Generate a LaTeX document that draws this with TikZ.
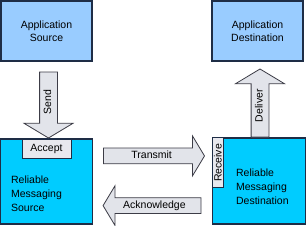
\documentclass[tikz,border=0pt]{standalone}
\usepackage{fontspec}
\setmainfont{Liberation Sans}
\usepackage{tikz}
\usetikzlibrary{positioning,shapes.arrows}
\definecolor{appblue}{RGB}{153,204,255}
\definecolor{rmblue}{RGB}{0,204,255}
\definecolor{boxline}{RGB}{30,45,70}
\definecolor{tabgray}{RGB}{232,232,238}
\definecolor{arrowfill}{RGB}{226,228,234}
\definecolor{arrowline}{RGB}{60,60,70}

\begin{document}
\begin{tikzpicture}[x=1pt,y=-1pt,
  every node/.style={font=\fontsize{10.5}{12.5}\selectfont},
  appbox/.style={draw=boxline,fill=appblue,line width=1.2pt,minimum width=91pt,minimum height=60pt,align=center,inner sep=0pt},
  rmbox/.style={draw=boxline,fill=rmblue,line width=1.2pt,minimum width=92pt,minimum height=85pt,inner sep=0pt},
  rmtext/.style={align=left,anchor=west,inner sep=0pt,font=\fontsize{10.5}{14}\selectfont},
  tabbox/.style={draw=boxline,fill=tabgray,line width=1pt,inner sep=0pt},
  blockarrow/.style={single arrow,draw=arrowline,fill=arrowfill,line width=0.8pt,single arrow head indent=0pt,single arrow tip angle=118,inner xsep=2pt,text height=7pt,text depth=2pt}
]
  \useasboundingbox (0,0) rectangle (307,225);
  \node[appbox] (appsrc) at (46.5,31) {Application\\Source};
  \node[appbox] (appdst) at (257.5,31) {Application\\Destination};
  \node[rmbox] (rms) at (46.5,181.5) {};
  \node[rmbox,minimum width=93pt,minimum height=86pt] (rmd) at (259,181) {};
  \node[tabbox,minimum width=49pt,minimum height=19pt,anchor=north] (accept) at ([yshift=-1pt]rms.north) {Accept};
  \node[tabbox,rotate=90,minimum width=50pt,minimum height=11pt,anchor=north east] (receive) at (rmd.north west) {Receive};
  \node[rmtext] (rmstext) at ([xshift=11pt,yshift=-12pt]rms.west) {Reliable\\Messaging\\Source};
  \node[rmtext] (rmdtext) at ([xshift=24pt,yshift=-6pt]rmd.west) {Reliable\\Messaging\\Destination};
  \node[blockarrow,rotate=90,shape border rotate=180,anchor=tail,minimum height=66pt,inner ysep=4pt,single arrow head extend=15.5pt] (send) at ([xshift=2pt,yshift=-10pt]appsrc.south) {Send};
  \node[blockarrow,rotate=90,anchor=tail,minimum height=68pt,inner ysep=4pt,single arrow head extend=15.5pt] (deliver) at ([xshift=1pt]rmd.north) {Deliver};
  \node[blockarrow,anchor=tail,minimum height=101pt,inner ysep=3pt,single arrow head extend=12pt] (transmit) at ([xshift=10pt,yshift=-17.5pt]rms.north east) {Transmit};
  \node[blockarrow,shape border rotate=180,anchor=tip,minimum height=98pt,inner ysep=3pt,single arrow head extend=12pt] (ack) at ([xshift=9.5pt,yshift=19pt]rms.south east) {Acknowledge};
\end{tikzpicture}
\end{document}
